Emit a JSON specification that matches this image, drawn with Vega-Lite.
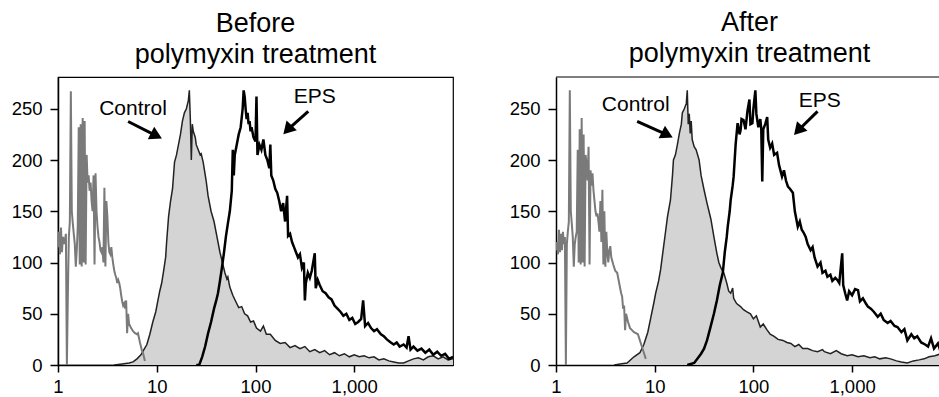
{
  "$schema": "https://vega.github.io/schema/vega-lite/v6.json",
  "padding": {"left": 10, "top": 9, "right": 0, "bottom": 0},
  "spacing": 55,
  "datasets": {
    "bd": [
      {"x":1,"y":115},{"x":1.023,"y":130},{"x":1.047,"y":108},{"x":1.072,"y":134},{"x":1.096,"y":110},{"x":1.122,"y":125},{"x":1.148,"y":118},{"x":1.175,"y":122},{"x":1.202,"y":128},{"x":1.23,"y":0},{"x":1.259,"y":70},{"x":1.288,"y":125},{"x":1.318,"y":140},{"x":1.349,"y":267},{"x":1.38,"y":150},{"x":1.413,"y":138},{"x":1.445,"y":128},{"x":1.479,"y":118},{"x":1.514,"y":96},{"x":1.549,"y":112},{"x":1.585,"y":135},{"x":1.622,"y":232},{"x":1.66,"y":98},{"x":1.698,"y":235},{"x":1.738,"y":96},{"x":1.778,"y":241},{"x":1.82,"y":100},{"x":1.862,"y":238},{"x":1.905,"y":98},{"x":1.95,"y":205},{"x":1.995,"y":178},{"x":2.042,"y":185},{"x":2.089,"y":170},{"x":2.138,"y":178},{"x":2.188,"y":160},{"x":2.239,"y":150},{"x":2.291,"y":185},{"x":2.344,"y":98},{"x":2.399,"y":187},{"x":2.455,"y":150},{"x":2.512,"y":135},{"x":2.57,"y":125},{"x":2.63,"y":120},{"x":2.692,"y":112},{"x":2.754,"y":110},{"x":2.818,"y":115},{"x":2.884,"y":100},{"x":2.951,"y":173},{"x":3.02,"y":96},{"x":3.09,"y":160},{"x":3.162,"y":145},{"x":3.236,"y":120},{"x":3.311,"y":110},{"x":3.388,"y":108},{"x":3.467,"y":115},{"x":3.548,"y":105},{"x":3.631,"y":98},{"x":3.715,"y":92},{"x":3.802,"y":88},{"x":3.891,"y":85},{"x":3.981,"y":80},{"x":4.074,"y":83},{"x":4.169,"y":80},{"x":4.266,"y":75},{"x":4.365,"y":68},{"x":4.467,"y":62},{"x":4.571,"y":58},{"x":4.677,"y":60},{"x":4.786,"y":55},{"x":4.898,"y":63},{"x":5.012,"y":31},{"x":5.129,"y":50},{"x":5.248,"y":40},{"x":5.495,"y":36},{"x":5.754,"y":33},{"x":6.026,"y":31},{"x":6.31,"y":30},{"x":6.457,"y":31},{"x":6.761,"y":22},{"x":7.079,"y":14},{"x":7.244,"y":12},{"x":7.413,"y":8},{"x":7.586,"y":4}
    ],
    "bc": [
      {"x":3.715,"y":0},{"x":4.467,"y":1},{"x":5.248,"y":2},{"x":5.754,"y":3},{"x":6.31,"y":6},{"x":6.918,"y":10},{"x":7.413,"y":15},{"x":7.943,"y":20},{"x":8.511,"y":30},{"x":9.12,"y":42},{"x":9.772,"y":52},{"x":10.23,"y":62},{"x":10.72,"y":72},{"x":11.22,"y":80},{"x":11.75,"y":92},{"x":12.3,"y":105},{"x":12.59,"y":120},{"x":13.18,"y":145},{"x":13.8,"y":160},{"x":14.45,"y":172},{"x":15.14,"y":198},{"x":15.85,"y":205},{"x":16.6,"y":215},{"x":17.38,"y":225},{"x":18.2,"y":238},{"x":19.05,"y":246},{"x":19.95,"y":250},{"x":20.89,"y":258},{"x":21.38,"y":268},{"x":21.88,"y":240},{"x":22.39,"y":200},{"x":22.91,"y":235},{"x":23.44,"y":228},{"x":24.55,"y":222},{"x":25.12,"y":215},{"x":26.3,"y":210},{"x":27.54,"y":205},{"x":28.18,"y":206},{"x":29.51,"y":198},{"x":31.62,"y":180},{"x":33.11,"y":165},{"x":35.48,"y":150},{"x":38.02,"y":140},{"x":40.74,"y":125},{"x":43.65,"y":110},{"x":46.77,"y":98},{"x":48.98,"y":90},{"x":51.29,"y":84},{"x":52.48,"y":86},{"x":54.95,"y":76},{"x":58.88,"y":68},{"x":63.1,"y":62},{"x":67.61,"y":56},{"x":72.44,"y":57},{"x":77.63,"y":50},{"x":83.18,"y":48},{"x":89.13,"y":42},{"x":95.5,"y":43},{"x":102.3,"y":36},{"x":112.2,"y":33},{"x":120.2,"y":38},{"x":128.8,"y":30},{"x":141.3,"y":30},{"x":158.5,"y":24},{"x":177.8,"y":21},{"x":199.5,"y":22},{"x":223.9,"y":17},{"x":251.2,"y":19},{"x":281.8,"y":16},{"x":316.2,"y":18},{"x":354.8,"y":13},{"x":398.1,"y":15},{"x":446.7,"y":12},{"x":501.2,"y":14},{"x":562.3,"y":10},{"x":631,"y":12},{"x":707.9,"y":9},{"x":794.3,"y":11},{"x":891.3,"y":8},{"x":1000,"y":10},{"x":1122,"y":8},{"x":1259,"y":9},{"x":1413,"y":7},{"x":1585,"y":8},{"x":1778,"y":5},{"x":1995,"y":6},{"x":2239,"y":4},{"x":2512,"y":3},{"x":2818,"y":2},{"x":3162,"y":2},{"x":3548,"y":4},{"x":3981,"y":6},{"x":4467,"y":7},{"x":5012,"y":5},{"x":5623,"y":8},{"x":6310,"y":9},{"x":7079,"y":6},{"x":7943,"y":8},{"x":8913,"y":5},{"x":10000,"y":6}
    ],
    "be": [
      {"x":25.12,"y":0},{"x":26.92,"y":0},{"x":28.84,"y":8},{"x":30.9,"y":18},{"x":33.11,"y":31},{"x":35.48,"y":42},{"x":38.02,"y":55},{"x":39.81,"y":62},{"x":41.69,"y":70},{"x":43.65,"y":82},{"x":45.71,"y":95},{"x":47.86,"y":109},{"x":50.12,"y":125},{"x":52.48,"y":138},{"x":54.95,"y":150},{"x":57.54,"y":170},{"x":58.88,"y":210},{"x":60.26,"y":185},{"x":61.66,"y":205},{"x":64.57,"y":215},{"x":67.61,"y":225},{"x":70.79,"y":232},{"x":74.13,"y":250},{"x":75.86,"y":268},{"x":77.63,"y":262},{"x":79.43,"y":250},{"x":81.28,"y":240},{"x":83.18,"y":246},{"x":85.11,"y":235},{"x":87.1,"y":238},{"x":89.13,"y":228},{"x":91.2,"y":232},{"x":95.5,"y":222},{"x":100,"y":218},{"x":102.3,"y":262},{"x":104.7,"y":205},{"x":109.6,"y":215},{"x":114.8,"y":210},{"x":120.2,"y":220},{"x":125.9,"y":205},{"x":131.8,"y":200},{"x":138,"y":192},{"x":141.3,"y":215},{"x":144.5,"y":185},{"x":151.4,"y":180},{"x":158.5,"y":172},{"x":166,"y":168},{"x":173.8,"y":160},{"x":182,"y":150},{"x":190.5,"y":158},{"x":199.5,"y":140},{"x":208.9,"y":165},{"x":213.8,"y":126},{"x":223.9,"y":128},{"x":234.4,"y":120},{"x":245.5,"y":115},{"x":257,"y":110},{"x":269.2,"y":105},{"x":281.8,"y":108},{"x":295.1,"y":95},{"x":309,"y":100},{"x":316.2,"y":63},{"x":323.6,"y":80},{"x":338.8,"y":90},{"x":354.8,"y":85},{"x":371.5,"y":92},{"x":398.1,"y":109},{"x":407.4,"y":75},{"x":426.6,"y":83},{"x":446.7,"y":78},{"x":478.6,"y":72},{"x":512.9,"y":70},{"x":549.5,"y":66},{"x":588.8,"y":64},{"x":631,"y":58},{"x":676.1,"y":55},{"x":724.4,"y":52},{"x":776.2,"y":48},{"x":831.8,"y":50},{"x":891.3,"y":44},{"x":955,"y":46},{"x":1023,"y":40},{"x":1096,"y":42},{"x":1175,"y":45},{"x":1230,"y":63},{"x":1288,"y":38},{"x":1380,"y":41},{"x":1479,"y":36},{"x":1585,"y":33},{"x":1698,"y":35},{"x":1862,"y":30},{"x":1995,"y":28},{"x":2138,"y":25},{"x":2344,"y":22},{"x":2512,"y":20},{"x":2692,"y":22},{"x":2884,"y":18},{"x":3162,"y":20},{"x":3388,"y":17},{"x":3548,"y":28},{"x":3715,"y":15},{"x":3981,"y":18},{"x":4365,"y":14},{"x":4786,"y":16},{"x":5248,"y":12},{"x":5754,"y":15},{"x":6310,"y":10},{"x":6918,"y":13},{"x":7586,"y":9},{"x":8318,"y":11},{"x":9120,"y":6},{"x":10000,"y":8}
    ],
    "ad": [
      {"x":1,"y":112},{"x":1.023,"y":120},{"x":1.047,"y":108},{"x":1.072,"y":132},{"x":1.096,"y":110},{"x":1.122,"y":128},{"x":1.148,"y":112},{"x":1.175,"y":130},{"x":1.202,"y":118},{"x":1.23,"y":125},{"x":1.259,"y":0},{"x":1.288,"y":118},{"x":1.318,"y":130},{"x":1.349,"y":140},{"x":1.38,"y":268},{"x":1.413,"y":150},{"x":1.445,"y":138},{"x":1.479,"y":125},{"x":1.514,"y":96},{"x":1.549,"y":118},{"x":1.585,"y":125},{"x":1.622,"y":130},{"x":1.66,"y":210},{"x":1.698,"y":100},{"x":1.738,"y":230},{"x":1.778,"y":98},{"x":1.82,"y":241},{"x":1.862,"y":100},{"x":1.905,"y":225},{"x":1.95,"y":96},{"x":1.995,"y":205},{"x":2.042,"y":195},{"x":2.089,"y":180},{"x":2.138,"y":213},{"x":2.188,"y":98},{"x":2.239,"y":190},{"x":2.291,"y":175},{"x":2.344,"y":187},{"x":2.399,"y":170},{"x":2.455,"y":160},{"x":2.512,"y":150},{"x":2.57,"y":145},{"x":2.63,"y":148},{"x":2.692,"y":140},{"x":2.754,"y":130},{"x":2.818,"y":160},{"x":2.884,"y":120},{"x":2.951,"y":171},{"x":3.02,"y":98},{"x":3.09,"y":150},{"x":3.162,"y":96},{"x":3.236,"y":130},{"x":3.311,"y":110},{"x":3.388,"y":100},{"x":3.467,"y":112},{"x":3.548,"y":116},{"x":3.631,"y":105},{"x":3.802,"y":98},{"x":3.981,"y":92},{"x":4.169,"y":90},{"x":4.365,"y":80},{"x":4.571,"y":70},{"x":4.677,"y":67},{"x":4.786,"y":55},{"x":4.898,"y":58},{"x":5.012,"y":34},{"x":5.129,"y":50},{"x":5.37,"y":42},{"x":5.623,"y":36},{"x":5.888,"y":34},{"x":6.166,"y":32},{"x":6.457,"y":31},{"x":6.761,"y":30},{"x":7.079,"y":24},{"x":7.413,"y":18},{"x":7.762,"y":12},{"x":8.128,"y":6}
    ],
    "ac": [
      {"x":3.891,"y":0},{"x":4.467,"y":1},{"x":5.248,"y":2},{"x":6.166,"y":8},{"x":7.079,"y":12},{"x":7.762,"y":20},{"x":8.511,"y":32},{"x":9.12,"y":46},{"x":9.772,"y":60},{"x":10.23,"y":70},{"x":10.96,"y":82},{"x":11.48,"y":93},{"x":12.02,"y":108},{"x":12.88,"y":130},{"x":13.49,"y":145},{"x":14.45,"y":161},{"x":15.14,"y":185},{"x":15.49,"y":200},{"x":16.22,"y":205},{"x":16.98,"y":215},{"x":17.78,"y":226},{"x":18.62,"y":235},{"x":19.05,"y":246},{"x":19.95,"y":250},{"x":20.89,"y":255},{"x":21.38,"y":268},{"x":21.88,"y":235},{"x":22.39,"y":245},{"x":22.91,"y":226},{"x":23.44,"y":238},{"x":23.99,"y":220},{"x":25.12,"y":213},{"x":26.3,"y":210},{"x":28.18,"y":200},{"x":29.51,"y":185},{"x":31.62,"y":171},{"x":33.88,"y":158},{"x":35.48,"y":150},{"x":37.15,"y":142},{"x":39.81,"y":125},{"x":42.66,"y":109},{"x":44.67,"y":100},{"x":46.77,"y":95},{"x":50.12,"y":90},{"x":53.7,"y":80},{"x":56.23,"y":72},{"x":58.88,"y":70},{"x":61.66,"y":75},{"x":63.1,"y":65},{"x":67.61,"y":60},{"x":74.13,"y":57},{"x":79.43,"y":54},{"x":85.11,"y":52},{"x":93.33,"y":50},{"x":100,"y":45},{"x":107.2,"y":48},{"x":117.5,"y":37},{"x":125.9,"y":40},{"x":138,"y":34},{"x":147.9,"y":30},{"x":162.2,"y":28},{"x":177.8,"y":25},{"x":199.5,"y":24},{"x":218.8,"y":22},{"x":239.9,"y":21},{"x":263,"y":18},{"x":288.4,"y":20},{"x":316.2,"y":16},{"x":354.8,"y":16},{"x":398.1,"y":14},{"x":446.7,"y":13},{"x":501.2,"y":15},{"x":524.8,"y":13},{"x":602.6,"y":11},{"x":691.8,"y":14},{"x":776.2,"y":11},{"x":891.3,"y":9},{"x":1000,"y":10},{"x":1148,"y":8},{"x":1318,"y":9},{"x":1514,"y":7},{"x":1698,"y":8},{"x":1905,"y":6},{"x":2188,"y":7},{"x":2455,"y":6},{"x":2818,"y":4},{"x":3162,"y":3},{"x":3631,"y":2},{"x":4169,"y":4},{"x":4786,"y":5},{"x":5370,"y":6},{"x":6026,"y":8},{"x":6918,"y":9},{"x":7943,"y":11},{"x":8318,"y":10}
    ],
    "ae": [
      {"x":21.38,"y":0},{"x":25.12,"y":2},{"x":29.51,"y":11},{"x":31.62,"y":16},{"x":33.88,"y":24},{"x":36.31,"y":35},{"x":39.81,"y":50},{"x":42.66,"y":63},{"x":45.71,"y":78},{"x":48.98,"y":90},{"x":51.29,"y":110},{"x":53.7,"y":125},{"x":54.95,"y":135},{"x":57.54,"y":150},{"x":58.88,"y":161},{"x":61.66,"y":175},{"x":63.1,"y":184},{"x":66.07,"y":215},{"x":69.18,"y":236},{"x":72.44,"y":225},{"x":74.13,"y":229},{"x":75.86,"y":240},{"x":79.43,"y":239},{"x":83.18,"y":230},{"x":87.1,"y":248},{"x":91.2,"y":259},{"x":93.33,"y":235},{"x":97.72,"y":236},{"x":100,"y":250},{"x":104.7,"y":268},{"x":107.2,"y":245},{"x":112.2,"y":232},{"x":117.5,"y":240},{"x":120.2,"y":230},{"x":123,"y":179},{"x":125.9,"y":230},{"x":131.8,"y":235},{"x":138,"y":242},{"x":141.3,"y":220},{"x":147.9,"y":212},{"x":154.9,"y":216},{"x":162.2,"y":205},{"x":173.8,"y":207},{"x":182,"y":195},{"x":195,"y":184},{"x":204.2,"y":190},{"x":213.8,"y":180},{"x":223.9,"y":174},{"x":234.4,"y":172},{"x":251.2,"y":168},{"x":263,"y":150},{"x":281.8,"y":135},{"x":295.1,"y":140},{"x":309,"y":132},{"x":323.6,"y":129},{"x":338.8,"y":125},{"x":354.8,"y":118},{"x":380.2,"y":112},{"x":398.1,"y":115},{"x":416.9,"y":105},{"x":446.7,"y":96},{"x":478.6,"y":100},{"x":501.2,"y":90},{"x":537,"y":92},{"x":562.3,"y":86},{"x":602.6,"y":88},{"x":631,"y":82},{"x":676.1,"y":85},{"x":707.9,"y":83},{"x":741.3,"y":80},{"x":794.3,"y":109},{"x":812.8,"y":78},{"x":851.1,"y":70},{"x":891.3,"y":63},{"x":933.3,"y":72},{"x":1000,"y":68},{"x":1072,"y":74},{"x":1148,"y":73},{"x":1202,"y":62},{"x":1288,"y":65},{"x":1380,"y":60},{"x":1445,"y":57},{"x":1549,"y":55},{"x":1660,"y":52},{"x":1820,"y":47},{"x":1950,"y":50},{"x":2089,"y":44},{"x":2291,"y":41},{"x":2455,"y":43},{"x":2692,"y":38},{"x":2884,"y":37},{"x":3162,"y":32},{"x":3388,"y":35},{"x":3631,"y":24},{"x":3981,"y":30},{"x":4266,"y":26},{"x":4571,"y":28},{"x":5012,"y":22},{"x":5495,"y":20},{"x":5888,"y":18},{"x":6310,"y":26},{"x":6761,"y":16},{"x":7413,"y":21},{"x":7943,"y":12},{"x":8318,"y":15}
    ],
    "notes": [
      {"panel":"Before","label":"Control","x":5.75,"y":250,"ax":5.13,"ay":237.6,"hx":9.93,"hy":223.6},
      {"panel":"Before","label":"EPS","x":398,"y":261,"ax":342,"ay":247.4,"hx":211,"hy":229.5},
      {"panel":"After","label":"Control","x":6.42,"y":254,"ax":6.64,"ay":237.6,"hx":13.4,"hy":224.6},
      {"panel":"After","label":"EPS","x":471,"y":258,"ax":446.7,"ay":247.4,"hx":284,"hy":228.8}
    ]
  },
  "hconcat": [
    {
      "width": 395,
      "height": 288,
      "title": {"text": ["Before", "polymyxin treatment"]},
      "layer": [
        {
          "data": {"name": "bc"},
          "mark": {"type": "area", "color": "#d4d4d4", "opacity": 1, "clip": true, "line": {"color": "#222222", "strokeWidth": 1.5}},
          "encoding": {
            "x": {"field": "x", "type": "quantitative", "scale": {"type": "log", "domain": [1, 10000], "nice": false}, "axis": {"title": null, "values": [1, 10, 100, 1000], "format": ",", "labelFlush": false, "labelPadding": 5, "tickSize": 7}},
            "y": {"field": "y", "type": "quantitative", "scale": {"domain": [0, 281], "nice": false}, "axis": {"title": null, "values": [0, 50, 100, 150, 200, 250]}}
          }
        },
        {
          "data": {"name": "bd"},
          "mark": {"type": "line", "color": "#7a7a7a", "strokeWidth": 2, "clip": true},
          "encoding": {"x": {"field": "x", "type": "quantitative"}, "y": {"field": "y", "type": "quantitative"}}
        },
        {
          "data": {"name": "be"},
          "mark": {"type": "line", "color": "#000000", "strokeWidth": 2.5, "clip": true},
          "encoding": {"x": {"field": "x", "type": "quantitative"}, "y": {"field": "y", "type": "quantitative"}}
        },
        {
          "data": {"name": "notes"},
          "transform": [{"filter": "datum.panel == 'Before'"}],
          "mark": {"type": "rule", "color": "#000000", "strokeWidth": 3},
          "encoding": {"x": {"field": "ax", "type": "quantitative"}, "y": {"field": "ay", "type": "quantitative"}, "x2": {"field": "hx"}, "y2": {"field": "hy"}}
        },
        {
          "data": {"name": "notes"},
          "transform": [{"filter": "datum.panel == 'Before' && datum.label == 'Control'"}],
          "mark": {"type": "point", "shape": "triangle-up", "filled": true, "color": "#000000", "size": 200, "opacity": 1, "angle": 117},
          "encoding": {"x": {"field": "hx", "type": "quantitative"}, "y": {"field": "hy", "type": "quantitative"}}
        },
        {
          "data": {"name": "notes"},
          "transform": [{"filter": "datum.panel == 'Before' && datum.label == 'EPS'"}],
          "mark": {"type": "point", "shape": "triangle-up", "filled": true, "color": "#000000", "size": 200, "opacity": 1, "angle": 223},
          "encoding": {"x": {"field": "hx", "type": "quantitative"}, "y": {"field": "hy", "type": "quantitative"}}
        },
        {
          "data": {"name": "notes"},
          "transform": [{"filter": "datum.panel == 'Before'"}],
          "mark": {"type": "text", "font": "Liberation Sans", "fontSize": 21, "color": "#000000", "align": "center", "baseline": "middle"},
          "encoding": {"x": {"field": "x", "type": "quantitative"}, "y": {"field": "y", "type": "quantitative"}, "text": {"field": "label"}}
        }
      ]
    },
    {
      "width": 387,
      "height": 288,
      "view": {"stroke": null},
      "title": {"text": ["After", "polymyxin treatment"]},
      "layer": [
        {
          "data": {"name": "ac"},
          "mark": {"type": "area", "color": "#d4d4d4", "opacity": 1, "clip": true, "line": {"color": "#222222", "strokeWidth": 1.5}},
          "encoding": {
            "x": {"field": "x", "type": "quantitative", "scale": {"type": "log", "domain": [1, 8340], "nice": false}, "axis": {"title": null, "values": [1, 10, 100, 1000], "format": ",", "labelFlush": false, "labelPadding": 5, "tickSize": 7}},
            "y": {"field": "y", "type": "quantitative", "scale": {"domain": [0, 281], "nice": false}, "axis": {"title": null, "values": [0, 50, 100, 150, 200, 250]}}
          }
        },
        {
          "data": {"name": "ad"},
          "mark": {"type": "line", "color": "#7a7a7a", "strokeWidth": 2, "clip": true},
          "encoding": {"x": {"field": "x", "type": "quantitative"}, "y": {"field": "y", "type": "quantitative"}}
        },
        {
          "data": {"name": "ae"},
          "mark": {"type": "line", "color": "#000000", "strokeWidth": 2.5, "clip": true},
          "encoding": {"x": {"field": "x", "type": "quantitative"}, "y": {"field": "y", "type": "quantitative"}}
        },
        {
          "data": {"values": [{}]},
          "mark": {"type": "rule", "color": "#000000", "strokeWidth": 1.2},
          "encoding": {"y": {"datum": 281}}
        },
        {
          "data": {"name": "notes"},
          "transform": [{"filter": "datum.panel == 'After'"}],
          "mark": {"type": "rule", "color": "#000000", "strokeWidth": 3},
          "encoding": {"x": {"field": "ax", "type": "quantitative"}, "y": {"field": "ay", "type": "quantitative"}, "x2": {"field": "hx"}, "y2": {"field": "hy"}}
        },
        {
          "data": {"name": "notes"},
          "transform": [{"filter": "datum.panel == 'After' && datum.label == 'Control'"}],
          "mark": {"type": "point", "shape": "triangle-up", "filled": true, "color": "#000000", "size": 200, "opacity": 1, "angle": 117},
          "encoding": {"x": {"field": "hx", "type": "quantitative"}, "y": {"field": "hy", "type": "quantitative"}}
        },
        {
          "data": {"name": "notes"},
          "transform": [{"filter": "datum.panel == 'After' && datum.label == 'EPS'"}],
          "mark": {"type": "point", "shape": "triangle-up", "filled": true, "color": "#000000", "size": 200, "opacity": 1, "angle": 222},
          "encoding": {"x": {"field": "hx", "type": "quantitative"}, "y": {"field": "hy", "type": "quantitative"}}
        },
        {
          "data": {"name": "notes"},
          "transform": [{"filter": "datum.panel == 'After'"}],
          "mark": {"type": "text", "font": "Liberation Sans", "fontSize": 21, "color": "#000000", "align": "center", "baseline": "middle"},
          "encoding": {"x": {"field": "x", "type": "quantitative"}, "y": {"field": "y", "type": "quantitative"}, "text": {"field": "label"}}
        }
      ]
    }
  ],
  "config": {
    "background": "#ffffff",
    "view": {"stroke": "#000000", "strokeWidth": 1.2},
    "axis": {"grid": false, "labelFont": "Liberation Sans", "labelFontSize": 18.5, "labelColor": "#000000", "domainColor": "#000000", "domainWidth": 1.5, "tickColor": "#000000", "tickWidth": 1.5, "tickSize": 8, "labelPadding": 8},
    "title": {"font": "Liberation Sans", "fontSize": 27, "fontWeight": "normal", "color": "#000000", "lineHeight": 31, "offset": 8, "anchor": "middle"}
  }
}
